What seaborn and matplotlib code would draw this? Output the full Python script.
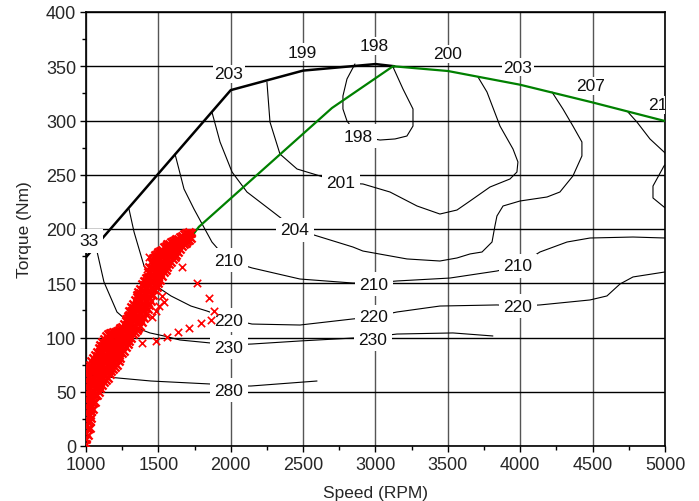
import numpy as np
import pandas as pd
import matplotlib
matplotlib.use("Agg")
import matplotlib.pyplot as plt
import seaborn as sns
from matplotlib.ticker import MultipleLocator

# ---------------- data ----------------
# full-load (maximum torque) curve
max_speed = [1000, 2000, 2500, 3000, 3130]
max_torque = [174, 328, 346, 352, 350]

# optimal operating line (green)
opt_speed = [1450, 1780, 2699, 3121, 3501, 3998, 4489, 5000]
opt_torque = [144, 202, 311.5, 350, 345.6, 333, 317, 299.5]

# BSFC iso-lines (g/kWh)
c198_speed = [2858, 2803, 2775, 2775, 2803, 2879, 3031, 3135, 3217, 3259, 3259, 3190, 3121]
c198_torque = [352.1, 338.3, 322.6, 310.6, 299.6, 285.7, 282.0, 283.0, 285.7, 294.9, 310.6, 329.0, 349.3]

c201_speed = [2250, 2271, 2340, 2458, 2616, 2762, 2913, 3100, 3287, 3445, 3563, 3653, 3791,
              3929, 3977, 3984, 3950, 3860, 3770, 3708]
c201_torque = [335.5, 298.6, 269.1, 255.3, 248.9, 242.4, 241.5, 234.1, 221.2, 213.8, 217.5, 225.8,
               238.7, 246.1, 252.5, 261.8, 273.7, 294.9, 326.3, 340.1]

c204_speed = [1870, 1926, 2009, 2112, 2292, 2444, 2596, 2844, 2913, 3217, 3445, 3563, 3653, 3736,
              3805, 3825, 3839, 3881, 3998, 4185, 4274, 4364, 4426, 4426, 4364, 4295, 4219]
c204_torque = [307.8, 280.2, 252.5, 234.1, 215.7, 200.0, 193.6, 183.4, 179.7, 172.4, 170.5, 173.3,
               177.0, 178.8, 188.0, 202.8, 212.0, 221.2, 225.8, 229.5, 234.1, 248.9, 267.3, 280.2,
               294.9, 310.6, 326.3]

c207_speed = [4744, 4806, 4896, 4993, 5041, 4993, 4917, 4917, 4993, 5041]
c207_torque = [307.8, 298.6, 283.0, 271.0, 264.5, 258.1, 239.6, 228.6, 220.3, 216.0]

c210_speed = [1615, 1677, 1746, 1870, 1981, 2147, 2478, 2844, 2983, 3148, 3514, 3839, 3984,
              4136, 4323, 4482, 4779, 5000]
c210_torque = [269.1, 236.9, 218.4, 188.0, 171.0, 164.1, 153.9, 150.2, 150.2, 152.1, 154.8, 161.3,
               165.9, 178.8, 188.0, 191.7, 192.6, 191.7]

c220_speed = [1297, 1332, 1401, 1484, 1587, 1725, 1836, 1988, 2147, 2478, 2844, 2983, 3148, 3445,
              3839, 3991, 4136, 4482, 4599, 4689, 4779, 5000]
c220_torque = [218.4, 197.2, 165.9, 147.5, 138.3, 129.0, 124.4, 117.1, 112.4, 111.5, 117.1, 118.9,
               123.5, 129.0, 130.0, 129.0, 130.0, 134.6, 138.3, 149.3, 155.8, 160.4]

c230_speed = [1069, 1124, 1214, 1332, 1442, 1539, 1649, 1864, 1988, 2147, 2478, 2844, 2983, 3148,
              3535, 3811]
c230_torque = [183.5, 151.2, 123.5, 109.7, 104.2, 101.4, 97.7, 94.9, 93.1, 94.0, 96.8, 99.5, 100.5,
               103.2, 104.2, 101.4]

c280_speed = [1040, 1062, 1145, 1449, 1864, 1988, 2140, 2596]
c280_torque = [65.0, 64.5, 63.6, 59.9, 57.1, 55.3, 55.3, 59.9]

# inline contour labels
label_text = ["204", "201", "198", "210", "210", "210", "220", "220", "220", "230", "230", "280", "33"]
label_speed = [2444, 2762, 2879, 1988, 2990, 3984, 1988, 2990, 3984, 1988, 2983, 1988, 1021]
label_torque = [199.1, 242.4, 285.7, 171.4, 149.3, 165.9, 116.1, 118.9, 129.0, 91.2, 98.6, 51.6, 189]

# labels along the full-load curve
top_text = ["203", "199", "198", "200", "203", "207", "210"]
top_speed = [1988, 2492, 2990, 3501, 3984, 4489, 4882]
top_torque = [342.9, 363.1, 368.7, 361.3, 349.3, 331.8, 314.3]

# measured operating points (red crosses): speed columns and the torques read in each
op_col_speed = [1000, 1012.5, 1025, 1037.5, 1050, 1062.5, 1075, 1087.5, 1100, 1112.5, 1125,
                1137.5, 1150, 1162.5, 1175, 1187.5, 1200, 1212.5, 1225, 1237.5, 1250, 1262.5,
                1275, 1287.5, 1300, 1312.5, 1325, 1337.5, 1350, 1362.5, 1375, 1387.5, 1400,
                1412.5, 1425, 1437.5, 1450, 1462.5, 1475, 1487.5, 1500, 1512.5, 1525, 1537.5,
                1550, 1562.5, 1575, 1587.5, 1600, 1612.5, 1625, 1637.5, 1650, 1662.5, 1675,
                1687.5, 1700, 1712.5, 1725]
op_col_torque = [
    [2, 6, 12, 18, 24, 30, 36, 42, 48, 54, 60, 66, 70],
    [10, 16, 22, 28, 34, 40, 46, 52, 58, 64, 70, 73],
    [17, 23, 29, 35, 41, 47, 53, 59, 65, 71, 75],
    [26, 32, 38, 44, 50, 56, 62, 68, 74, 78],
    [34, 40, 46, 52, 58, 64, 70, 76, 81],
    [41, 47, 53, 59, 65, 71, 77, 84],
    [47, 53, 59, 65, 71, 77, 83, 87],
    [50, 56, 62, 68, 74, 80, 86, 90],
    [53, 59, 65, 71, 77, 83, 89, 93],
    [56, 62, 68, 74, 80, 86, 92, 96],
    [59, 65, 71, 77, 83, 89, 95, 99],
    [61, 67, 73, 79, 85, 91, 97, 101],
    [63, 69, 75, 81, 87, 93, 99, 103],
    [66, 72, 78, 84, 90, 96, 101, 104],
    [69, 75, 81, 87, 93, 99, 104],
    [71, 77, 83, 89, 95, 101, 105],
    [73, 79, 85, 91, 97, 102, 105],
    [75, 81, 87, 93, 99, 104, 106],
    [78, 84, 90, 96, 102, 107],
    [81, 87, 93, 99, 105, 109],
    [86, 92, 98, 104, 110],
    [88, 94, 100, 106, 112],
    [91, 97, 103, 109, 115, 117],
    [94, 100, 106, 112, 118, 120],
    [97, 103, 109, 115, 121, 124],
    [100, 106, 112, 118, 124, 128],
    [103, 109, 115, 121, 127, 131],
    [105, 111, 117, 123, 129, 135],
    [107, 113, 119, 125, 131, 137, 139],
    [109, 115, 121, 127, 133, 139, 142],
    [111, 117, 123, 129, 135, 141, 145],
    [114, 120, 126, 132, 138, 144, 149],
    [118, 124, 130, 136, 142, 148, 152],
    [122, 128, 134, 140, 146, 152, 155],
    [126, 132, 138, 144, 150, 156, 160],
    [130, 136, 142, 148, 154, 160, 165],
    [134, 140, 146, 152, 158, 164, 170],
    [139, 145, 151, 157, 163, 169, 173],
    [144, 150, 156, 162, 168, 174, 176],
    [147, 153, 159, 165, 171, 177],
    [150, 156, 162, 168, 174, 179],
    [153, 159, 165, 171, 177, 180],
    [157, 163, 169, 175, 181],
    [160, 166, 172, 178, 183],
    [162, 168, 174, 180, 184],
    [165, 171, 177, 183, 186],
    [168, 174, 180, 186],
    [170, 176, 182, 188],
    [172, 178, 184, 189],
    [174, 180, 186, 190],
    [176, 182, 188, 191],
    [179, 185, 191],
    [182, 188, 193],
    [184, 190, 194],
    [186, 191, 195],
    [187, 192, 196],
    [189, 193, 196],
    [190, 194, 197],
    [192, 196],
]
# scattered outlying operating points
out_speed = [1435, 1484, 1553, 1663, 1767, 1850, 1884, 1864, 1794, 1712, 1636, 1560, 1484, 1387,
             1525, 1539, 1504, 1484, 1456, 1421]
out_torque = [174, 175, 180, 165, 150, 136, 124, 116, 113, 109, 105, 100.5, 97, 95,
              138, 133, 129, 124, 119, 163]

# ---------------- build tables ----------------
contours = {
    "198": (c198_speed, c198_torque), "201": (c201_speed, c201_torque),
    "204": (c204_speed, c204_torque), "207": (c207_speed, c207_torque),
    "210": (c210_speed, c210_torque), "220": (c220_speed, c220_torque),
    "230": (c230_speed, c230_torque), "280": (c280_speed, c280_torque),
}
rows = []
for lvl, (xs, ys) in contours.items():
    for i, (xv, yv) in enumerate(zip(xs, ys)):
        rows.append({"level": lvl, "order": i, "speed": xv, "torque": yv})
cdf = pd.DataFrame(rows)
maxdf = pd.DataFrame({"speed": max_speed, "torque": max_torque})
optdf = pd.DataFrame({"speed": opt_speed, "torque": opt_torque})

op_rows = []
for sv, tl in zip(op_col_speed, op_col_torque):
    for tv in tl:
        op_rows.append({"speed": sv, "torque": tv})
opdf = pd.DataFrame(op_rows)
outdf = pd.DataFrame({"speed": out_speed, "torque": out_torque})

# ---------------- plot ----------------
sns.set_theme(style="white")
font = ["Liberation Sans", "DejaVu Sans"]
plt.rcParams["font.family"] = font

fig = plt.figure(figsize=(6.99, 5.02), dpi=100)
ax = fig.add_axes([86 / 699, 1 - 447 / 502, (665 - 86) / 699, (447 - 13) / 502])

sns.lineplot(data=cdf, x="speed", y="torque", units="level", estimator=None, sort=False,
             color="black", linewidth=0.8, ax=ax, zorder=2, legend=False)
sns.lineplot(data=maxdf, x="speed", y="torque", sort=False, estimator=None, color="black",
             linewidth=1.8, ax=ax, zorder=3)
sns.lineplot(data=optdf, x="speed", y="torque", sort=False, estimator=None, color="#008000",
             linewidth=1.6, ax=ax, zorder=3)
sns.scatterplot(data=opdf, x="speed", y="torque", marker="x", color="#ff0000", s=34,
                linewidth=1.7, ax=ax, zorder=5, legend=False)
sns.scatterplot(data=outdf, x="speed", y="torque", marker="x", color="#ff0000", s=28,
                linewidth=1.2, ax=ax, zorder=5, legend=False)

lbl_fs = 12.5
for t, xv, yv in zip(label_text, label_speed, label_torque):
    ax.text(xv, yv, t, ha="center", va="center", fontsize=lbl_fs, color="#111111", zorder=4,
            bbox=dict(boxstyle="square,pad=0.25", fc="white", ec="none"))
for t, xv, yv in zip(top_text, top_speed, top_torque):
    ha = "left" if t == "210" else "center"
    ax.text(xv, yv, t, ha=ha, va="center", fontsize=lbl_fs, color="#111111", zorder=4,
            clip_on=True, bbox=dict(boxstyle="square,pad=0.1", fc="white", ec="none"))

ax.set_xlim(1000, 5000)
ax.set_ylim(0, 400)
ax.xaxis.set_major_locator(MultipleLocator(500))
ax.xaxis.set_minor_locator(MultipleLocator(250))
ax.yaxis.set_major_locator(MultipleLocator(50))
ax.yaxis.set_minor_locator(MultipleLocator(25))
ax.grid(False)
ax.xaxis.grid(True, which="major", color="#555555", linewidth=1.0, zorder=1)
ax.yaxis.grid(True, which="major", color="#000000", linewidth=1.0, zorder=1)
ax.set_axisbelow(True)
ax.tick_params(which="major", direction="out", length=4, width=1, color="black",
               labelsize=13, pad=3, bottom=True, left=True)
ax.tick_params(which="minor", direction="out", length=3, width=1, color="black",
               bottom=True, left=True)
for sp in ax.spines.values():
    sp.set_color("black")
    sp.set_linewidth(1.2)
ax.set_xlabel("Speed (RPM)", fontsize=12.5, labelpad=9)
ax.set_ylabel("Torque (Nm)", fontsize=12.5, labelpad=10)

fig.savefig("out.png", dpi=100)
